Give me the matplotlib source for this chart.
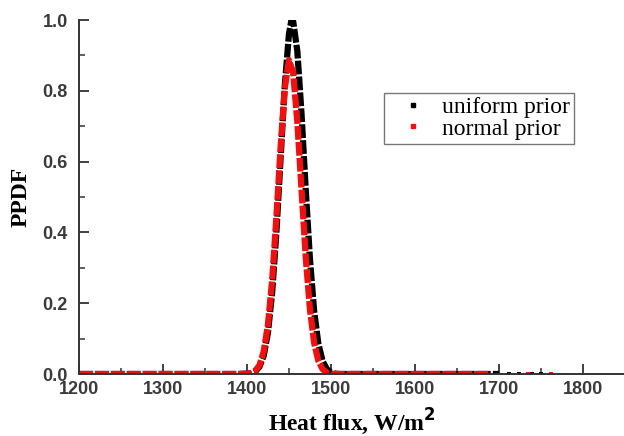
import matplotlib
matplotlib.use("Agg")
import matplotlib.pyplot as plt
from matplotlib.lines import Line2D
from matplotlib.ticker import MultipleLocator

# Posterior PDF of the heat flux, uniform prior
flux_uniform = [1200, 1250, 1300, 1350, 1390, 1400, 1405, 1410, 1415, 1420, 1425,
                1430, 1435, 1440, 1445, 1450, 1453, 1455, 1460, 1465, 1470, 1475,
                1480, 1485, 1490, 1495, 1500, 1505, 1510, 1550, 1600, 1650, 1700]
ppdf_uniform = [0.0, 0.0, 0.0, 0.0, 0.0, 0.001, 0.002, 0.007, 0.021, 0.052, 0.117,
                0.230, 0.398, 0.607, 0.813, 0.960, 1.0, 0.997, 0.912, 0.734, 0.520, 0.325,
                0.178, 0.086, 0.037, 0.014, 0.005, 0.001, 0.0, 0.0, 0.0, 0.0, 0.0]

# Posterior PDF of the heat flux, normal prior
flux_normal = [1200, 1250, 1300, 1350, 1390, 1400, 1405, 1410, 1415, 1420, 1425,
               1430, 1435, 1440, 1445, 1450, 1455, 1460, 1465, 1470, 1475, 1480,
               1485, 1490, 1495, 1500, 1505, 1550, 1600, 1650, 1690]
ppdf_normal = [0.0, 0.0, 0.0, 0.0, 0.0, 0.001, 0.003, 0.009, 0.025, 0.064, 0.139,
               0.265, 0.441, 0.638, 0.806, 0.887, 0.852, 0.712, 0.520, 0.330, 0.183, 0.088,
               0.037, 0.014, 0.004, 0.001, 0.0, 0.0, 0.0, 0.0, 0.0]

# isolated samples far in the upper tail
tail_uniform_x = [1712, 1724, 1740, 1750]
tail_uniform_y = [0.0, 0.0, 0.0, 0.0]
tail_normal_x = [1735, 1762]
tail_normal_y = [0.0, 0.0]

x_ticks = [1200, 1300, 1400, 1500, 1600, 1700, 1800]
y_ticks = [0.0, 0.2, 0.4, 0.6, 0.8, 1.0]

serif = ["Liberation Serif", "DejaVu Serif"]
sans = ["Liberation Sans", "DejaVu Sans"]
axis_grey = "#333333"
red = "#f01010"

fig = plt.figure(figsize=(6.24, 4.36), dpi=100)
ax = fig.add_axes([0.1266, 0.1422, 0.8734, 0.8118])

ax.plot(flux_uniform, ppdf_uniform, color="black", lw=4.5,
        linestyle=(0, (2.2, 0.35)), solid_capstyle="butt")
ax.plot(tail_uniform_x, tail_uniform_y, "s", color="black", ms=2.5, mew=0)
ax.plot(flux_normal, ppdf_normal, color=red, lw=4.5,
        linestyle=(0, (2.2, 0.35)), solid_capstyle="butt")
ax.plot(tail_normal_x, tail_normal_y, "s", color=red, ms=2.5, mew=0)

ax.set_xlim(1200, 1849)
ax.set_ylim(0.0, 1.0)
ax.set_xticks(x_ticks)
ax.set_yticks(y_ticks)
ax.set_yticklabels([f"{v:.1f}" for v in y_ticks])
ax.xaxis.set_minor_locator(MultipleLocator(50))
ax.yaxis.set_minor_locator(MultipleLocator(0.1))

for side in ("top", "right"):
    ax.spines[side].set_visible(False)
for side in ("left", "bottom"):
    ax.spines[side].set_color(axis_grey)
    ax.spines[side].set_linewidth(1.4)

ax.tick_params(which="major", direction="in", length=7, width=1.3,
               color=axis_grey, labelsize=13, labelcolor="#3a3a3a")
ax.tick_params(axis="y", which="major", pad=8)
ax.tick_params(axis="x", which="major", pad=5)
ax.tick_params(which="minor", direction="in", length=4, width=1.1, color=axis_grey)
for lab in ax.get_xticklabels() + ax.get_yticklabels():
    lab.set_family(sans)
    lab.set_fontweight("bold")

ax.set_xlabel("Heat flux, W/m$^\\mathbf{2}$", family=serif, fontweight="bold",
              fontsize=17, labelpad=6)
ax.set_ylabel("PPDF", family=serif, fontweight="bold", fontsize=17, labelpad=8)

handles = [Line2D([], [], color="black", marker="s", ms=3, linestyle="none"),
           Line2D([], [], color=red, marker="s", ms=3, linestyle="none")]
leg = ax.legend(handles, ["uniform prior", "normal prior"],
                loc="upper left", bbox_to_anchor=(0.5595, 0.795),
                frameon=True, fancybox=False, edgecolor="#555555",
                prop={"family": serif, "size": 17},
                handlelength=2.1, handletextpad=0.2, borderpad=0.17,
                labelspacing=0.0, borderaxespad=0)
leg.get_frame().set_linewidth(1.0)

fig.savefig("out.png", dpi=100)
